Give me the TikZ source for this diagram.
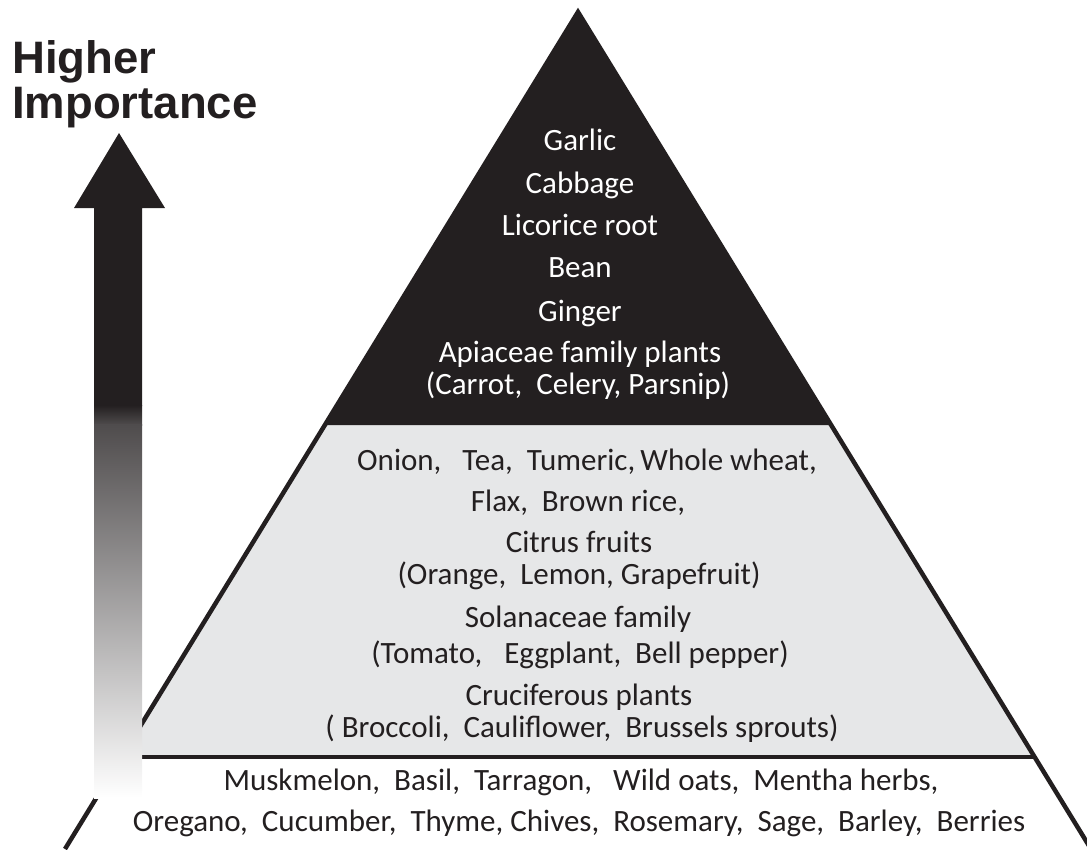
\documentclass[tikz,border=0pt]{standalone}
\usepackage{fontspec}
\setmainfont{Carlito}
\newfontfamily\headfont{Liberation Sans}
\definecolor{ink}{HTML}{231F20}
\definecolor{midgray}{HTML}{E6E7E8}
\tikzset{
  wt/.style={text=white, font=\fontsize{31}{36}\selectfont, anchor=base, inner sep=0pt},
  dk/.style={text=ink, font=\fontsize{31}{36}\selectfont, anchor=base, inner sep=0pt},
  head/.style={text=ink, font=\headfont\bfseries\fontsize{45.5}{50}\selectfont, anchor=base west, inner sep=0pt},
  edge/.style={draw=ink, line width=4.5pt, line cap=butt},
}
\begin{document}
\begin{tikzpicture}[x=1pt,y=-1pt]
\useasboundingbox (0,0) rectangle (1087,849);
\clip (0,0) rectangle (1087,849);
% key points of the pyramid
\coordinate (apex) at (578,12);
\coordinate (tl) at (325,425);
\coordinate (tr) at (831,425);
\coordinate (ml) at (122,757);
\coordinate (mr) at (1035,757);
\coordinate (bl) at (65,849);
\coordinate (br) at (1091,849);
% tiers
\fill[midgray] (tl) -- (tr) -- (mr) -- (ml) -- cycle;
\fill[ink] (apex) -- (tr) -- (tl) -- cycle;
\draw[edge, line join=miter] (bl) -- (apex) -- (br);
\draw[edge] (ml) -- (mr);
% arrow
\fill[ink] (119,133) -- (165,208) -- (142,208) -- (142,406) -- (94,406) -- (94,208) -- (74,208) -- cycle;
\shade[top color=ink, bottom color=ink!80!white] (94,405) rectangle (142,425);
\shade[top color=ink!80!white, bottom color=white] (94,424) rectangle (142,798);
% heading
\node[head] (h1) at (12,73) {Higher};
\node[head] (h2) at (12,118) {Importance};
% top tier
\node[wt] (a1) at (580,150) {Garlic};
\node[wt] (a2) at (580,193) {Cabbage};
\node[wt] (a3) at (580,235) {Licorice root};
\node[wt] (a4) at (580,277) {Bean};
\node[wt] (a5) at (580,321) {Ginger};
\node[wt] (a6) at (580,362) {Apiaceae family plants};
\node[wt] (a7) at (578,394) {(Carrot,\ \ Celery,\ Parsnip)};
% middle tier
\node[dk] (b1) at (587,470) {Onion,\hspace{14pt} Tea,\ \ Tumeric,\,Whole wheat,};
\node[dk] (b2) at (578,511) {Flax,\ \ Brown rice,};
\node[dk] (b3) at (579,552) {Citrus fruits};
\node[dk] (b4) at (579,584) {(Orange,\ \ Lemon,\ Grapefruit)};
\node[dk] (b5) at (578,627) {Solanaceae family};
\node[dk] (b6) at (580,663) {(Tomato,\hspace{22pt}Eggplant,\ \ Bell pepper)};
\node[dk] (b7) at (579,705) {Cruciferous plants};
\node[dk] (b8) at (582,737) {(\ Broccoli,\ \ Cauliflower,\ \ Brussels sprouts)};
% bottom tier
\node[dk] (c1) at (581,790) {Muskmelon,\ \ Basil,\ \ Tarragon,\ \ \ Wild oats,\ \ Mentha herbs,};
\node[dk] (c2) at (579,831) {Oregano,\ \ Cucumber,\ \ Thyme,\ Chives,\ \ Rosemary,\ \ Sage,\ \ Barley,\ \ Berries};
\end{tikzpicture}
\end{document}
